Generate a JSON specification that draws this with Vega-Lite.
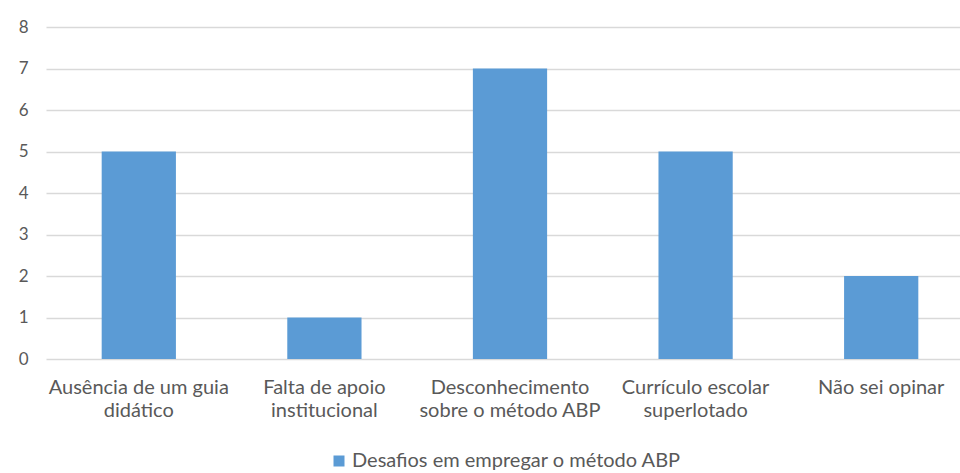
{
  "$schema": "https://vega.github.io/schema/vega-lite/v6.json",
  "width": 914,
  "height": 332,
  "autosize": {"type": "none"},
  "padding": {"left": 46, "top": 27, "right": 0, "bottom": 114},
  "background": "white",
  "config": {
    "view": {"stroke": null},
    "font": "Lato",
    "axis": {"labelFont": "Lato", "labelColor": "#595959", "labelFontSize": 20},
    "legend": {"labelFont": "Lato", "labelColor": "#595959", "labelFontSize": 20}
  },
  "data": {
    "values": [
      {"desafio": "Ausência de um guia\ndidático", "respostas": 5},
      {"desafio": "Falta de apoio\ninstitucional", "respostas": 1},
      {"desafio": "Desconhecimento\nsobre o método ABP", "respostas": 7},
      {"desafio": "Currículo escolar\nsuperlotado", "respostas": 5},
      {"desafio": "Não sei opinar", "respostas": 2}
    ]
  },
  "mark": {"type": "bar"},
  "encoding": {
    "x": {
      "field": "desafio",
      "type": "nominal",
      "sort": null,
      "scale": {"range": [0, 928], "paddingInner": 0.6, "paddingOuter": 0.3},
      "axis": {
        "title": null,
        "labelAngle": 0,
        "domain": false,
        "ticks": false,
        "labelPadding": 18,
        "labelLineHeight": 23,
        "labelLimit": 0,
        "labelExpr": "split(datum.label, '\\n')"
      }
    },
    "y": {
      "field": "respostas",
      "type": "quantitative",
      "scale": {"domain": [0, 8]},
      "axis": {
        "title": null,
        "values": [0, 1, 2, 3, 4, 5, 6, 7, 8],
        "domain": false,
        "ticks": false,
        "labelFontSize": 17,
        "labelPadding": 18,
        "gridColor": "#D9D9D9",
        "gridWidth": 1.5
      }
    },
    "color": {
      "datum": "Desafios em empregar o método ABP",
      "type": "nominal",
      "scale": {"range": ["#5B9BD5"]},
      "legend": {
        "title": null,
        "orient": "none",
        "legendX": 283,
        "legendY": 424,
        "direction": "horizontal",
        "symbolType": "square",
        "symbolSize": 121,
        "symbolStrokeWidth": 0,
        "labelOffset": 3,
        "labelLimit": 0
      }
    }
  }
}
